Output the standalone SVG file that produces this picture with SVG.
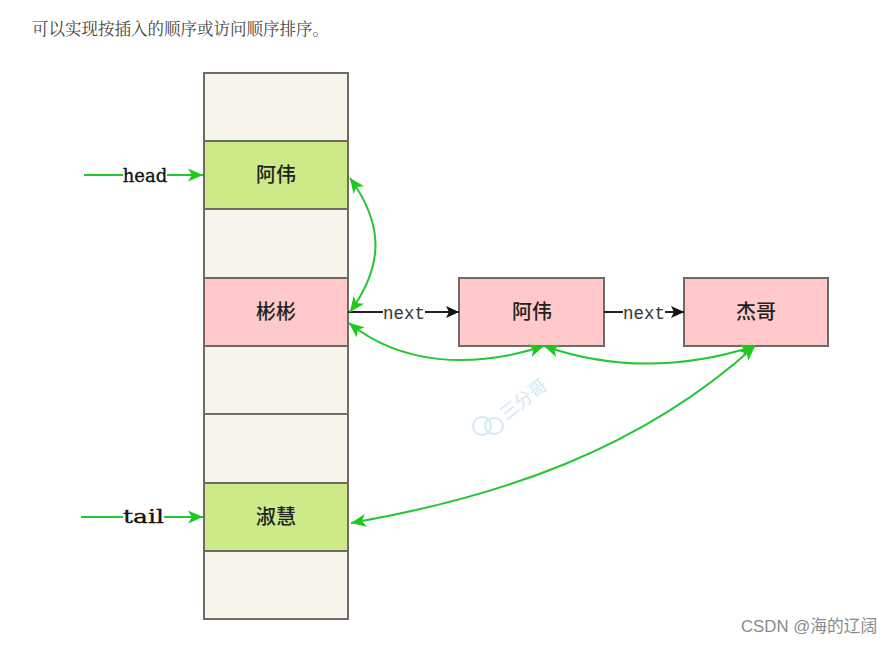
<svg xmlns="http://www.w3.org/2000/svg" width="892" height="645" viewBox="0 0 892 645">
<defs>
<marker id="g" markerUnits="userSpaceOnUse" markerWidth="18" markerHeight="18" refX="15" refY="9" orient="auto-start-reverse"><path d="M0 2.500L15 9L0 15.500L4 9Z" fill="#1ec81e"/></marker>
<marker id="k" markerUnits="userSpaceOnUse" markerWidth="16" markerHeight="16" refX="13" refY="8" orient="auto"><path d="M0 2L13 8L0 14L3 8Z" fill="#111"/></marker>
</defs>
<style>
.c{stroke:#6f6a66;stroke-width:2}
.e{fill:#f7f4ec}.p{fill:#ffc9c9}.n{fill:#cdea89}
.t{font:500 20px "Noto Sans CJK SC","Noto Sans CJK JP",serif;fill:#222;text-anchor:middle}
.l{font:17.5px "Liberation Mono","DejaVu Sans Mono",monospace;fill:#333;text-anchor:middle}
.h{font:18px "DejaVu Serif","Liberation Serif",serif;fill:#111;text-anchor:middle;stroke:#111;stroke-width:.3}
.gl{fill:none;stroke:#22c832;stroke-width:2}
.kl{fill:none;stroke:#222;stroke-width:2}
</style>
<rect width="892" height="645" fill="#fff"/>
<text x="32" y="35" style="font:16.5px 'Noto Serif CJK SC','Noto Sans CJK SC',serif;fill:#444">可以实现按插入的顺序或访问顺序排序。</text>
<g id="cell-0"><rect class="c e" x="204" y="73" width="144" height="68"/></g>
<g id="cell-1"><rect class="c n" x="204" y="141" width="144" height="68"/><text class="t" x="276" y="182">阿伟</text></g>
<g id="cell-2"><rect class="c e" x="204" y="209" width="144" height="69"/></g>
<g id="cell-3"><rect class="c p" x="204" y="278" width="144" height="68"/><text class="t" x="276" y="319">彬彬</text></g>
<g id="cell-4"><rect class="c e" x="204" y="346" width="144" height="68"/></g>
<g id="cell-5"><rect class="c e" x="204" y="414" width="144" height="69"/></g>
<g id="cell-6"><rect class="c n" x="204" y="483" width="144" height="68"/><text class="t" x="276" y="524">淑慧</text></g>
<g id="cell-7"><rect class="c e" x="204" y="551" width="144" height="68"/></g>
<g id="node-a"><rect class="c p" x="459" y="278" width="145" height="68"/><text class="t" x="532" y="319">阿伟</text></g>
<g id="node-j"><rect class="c p" x="684" y="278" width="144" height="68"/><text class="t" x="756" y="319">杰哥</text></g>
<g id="connectors">
<path class="gl" d="M84 175H203" marker-end="url(#g)"/>
<path class="gl" d="M81 517H203" marker-end="url(#g)"/>
<path class="kl" d="M348 312H459" marker-end="url(#k)"/>
<path class="kl" d="M604 312H684" marker-end="url(#k)"/>
<path class="gl" d="M350 178C384 225 384 265 350 312" marker-start="url(#g)" marker-end="url(#g)"/>
<path class="gl" d="M349 323C400 364 470 370 544 346" marker-start="url(#g)" marker-end="url(#g)"/>
<path class="gl" d="M544 346C610 369 680 370 755 346" marker-start="url(#g)" marker-end="url(#g)"/>
<path class="gl" d="M755 346C640 450 500 497 351 523" marker-start="url(#g)" marker-end="url(#g)"/>
</g>
<g id="labels">
<rect x="123" y="164" width="44" height="22" fill="#fff"/><text class="h" x="145" y="182">head</text>
<rect x="123" y="506" width="41" height="22" fill="#fff"/><text class="h" x="143.500" y="523" textLength="41" lengthAdjust="spacingAndGlyphs">tail</text>
<rect x="383" y="302" width="42" height="20" fill="#fff"/><text class="l" x="404" y="319">next</text>
<rect x="623" y="302" width="42" height="20" fill="#fff"/><text class="l" x="644" y="319">next</text>
</g>
<g id="watermark" fill="none" stroke="#d3e8f5" stroke-width="1.8">
<ellipse cx="482" cy="426" rx="9" ry="9"/><ellipse cx="494" cy="426" rx="9" ry="8"/>
<text transform="translate(506 421) rotate(-38)" style="font:18px 'Noto Sans CJK SC',sans-serif;fill:#d3e8f5;stroke:none">三分哥</text>
</g>
<text x="741" y="632" style="font:16.800px 'Liberation Sans','Noto Sans CJK SC',sans-serif;fill:#8a8a8a">CSDN @海的辽阔</text>
</svg>
